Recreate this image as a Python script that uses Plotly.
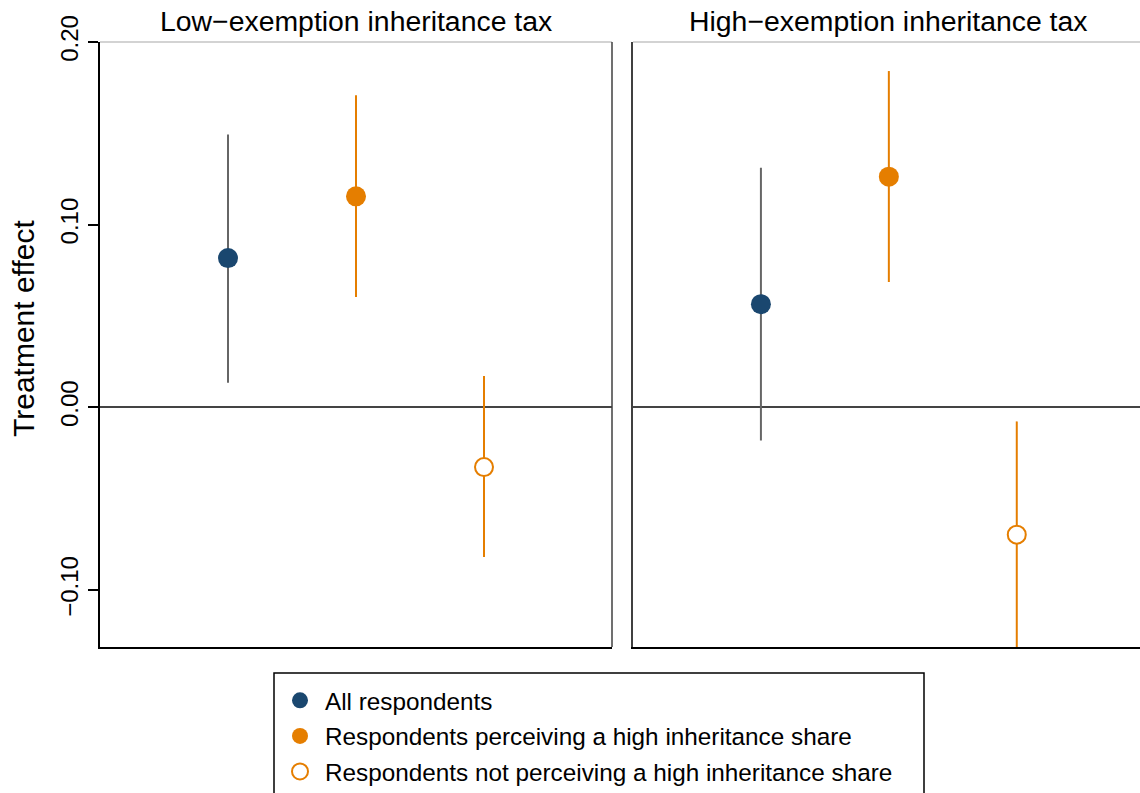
import plotly.graph_objects as go

# Treatment effects with 95% confidence intervals, by tax framing
panels = ["Low\u2212exemption inheritance tax", "High\u2212exemption inheritance tax"]
series = [
    "All respondents",
    "Respondents perceiving a high inheritance share",
    "Respondents not perceiving a high inheritance share",
]
positions = [1, 2, 3]

# estimates per series: [low-exemption, high-exemption]
est_all = [0.0817, 0.0565]
lo_all = [0.0135, -0.0181]
hi_all = [0.1494, 0.1312]

est_high = [0.1155, 0.1263]
lo_high = [0.0604, 0.0686]
hi_high = [0.1708, 0.1841]

est_not = [-0.0327, -0.0697]
lo_not = [-0.0819, -0.1320]
hi_not = [0.0171, -0.0077]

y_ticks = [-0.10, 0.00, 0.10, 0.20]
y_tick_text = ["\u22120.10", "0.00", "0.10", "0.20"]

NAVY = "#1a476f"
ORANGE = "#e57e00"
BAR_GRAY = "#666666"
FONT = "Liberation Sans, Arial, Helvetica, sans-serif"

W, H = 1140, 793
M_L, M_R, M_T, M_B = 100, 0, 42, 146
PLOT_W = W - M_L - M_R
PLOT_H = H - M_T - M_B


def px_x(p):
    return (p - M_L) / PLOT_W


def px_y(p):
    return (H - M_B - p) / PLOT_H


styles = [
    dict(est=est_all, lo=lo_all, hi=hi_all, fill=NAVY, edge=NAVY, lw=0, bar=BAR_GRAY, size=20),
    dict(est=est_high, lo=lo_high, hi=hi_high, fill=ORANGE, edge=ORANGE, lw=0, bar=ORANGE, size=20),
    dict(est=est_not, lo=lo_not, hi=hi_not, fill="white", edge=ORANGE, lw=2, bar=ORANGE, size=18),
]

fig = go.Figure()
for p in range(2):
    xa = "x" if p == 0 else "x2"
    ya = "y" if p == 0 else "y2"
    for k, (name, st) in enumerate(zip(series, styles)):
        e = st["est"][p]
        fig.add_trace(go.Scatter(
            x=[positions[k]], y=[e],
            xaxis=xa, yaxis=ya,
            mode="markers",
            name=name,
            legendgroup=name,
            showlegend=(p == 0),
            marker=dict(size=st["size"], color=st["fill"],
                        line=dict(color=st["edge"], width=st["lw"])),
            error_y=dict(type="data", symmetric=False,
                         array=[st["hi"][p] - e],
                         arrayminus=[e - st["lo"][p]],
                         color=st["bar"], thickness=2, width=0),
            hoverinfo="skip",
        ))

left_dom = [0, 512 / PLOT_W]
right_dom = [533 / PLOT_W, 1]
right_max = (W - 632.7) / 128

axis_common = dict(showgrid=False, zeroline=False, showticklabels=False, ticks="")
fig.update_layout(
    width=W, height=H,
    margin=dict(l=M_L, r=M_R, t=M_T, b=M_B, autoexpand=False),
    paper_bgcolor="white", plot_bgcolor="white",
    font=dict(family=FONT, color="black"),
    xaxis=dict(domain=left_dom, range=[0, 4], showline=True, linecolor="black",
               linewidth=2, **axis_common),
    xaxis2=dict(domain=right_dom, range=[0, right_max], showline=True,
                linecolor="black", linewidth=2, anchor="y2", **axis_common),
    yaxis=dict(range=[-0.1312, 0.2], tickvals=y_ticks, ticktext=y_tick_text,
               tickangle=-90, ticks="outside", ticklen=10, tickwidth=1.5,
               tickcolor="black", tickfont=dict(size=24, family=FONT),
               showline=True, linecolor="black", linewidth=2,
               showgrid=False, zeroline=True, zerolinecolor="#444444",
               zerolinewidth=2),
    yaxis2=dict(range=[-0.1312, 0.2], anchor="x2", showline=True,
                linecolor="#404040", linewidth=1.5, showgrid=False,
                showticklabels=False, ticks="", zeroline=True,
                zerolinecolor="#444444", zerolinewidth=2),
    legend=dict(x=px_x(275), y=px_y(678), xanchor="left", yanchor="top",
                bgcolor="rgba(0,0,0,0)", borderwidth=0,
                font=dict(size=24.3, family=FONT, color="black"),
                traceorder="grouped", tracegroupgap=1,
                itemwidth=40, itemsizing="trace"),
    showlegend=True,
)

# legend frame (runs off the bottom edge of the page)
fig.add_shape(type="rect", xref="paper", yref="paper",
              x0=px_x(274), x1=px_x(924), y0=px_y(800), y1=px_y(673),
              line=dict(color="black", width=1.5), fillcolor="rgba(0,0,0,0)",
              layer="below")

# panel frames: light top edge, dark right edge of the left panel
fig.add_shape(type="line", xref="x domain", yref="y domain", x0=0, x1=1, y0=1, y1=1,
              line=dict(color="#c4c4c4", width=1.5))
fig.add_shape(type="line", xref="x2 domain", yref="y2 domain", x0=0, x1=1, y0=1, y1=1,
              line=dict(color="#c4c4c4", width=1.5))
fig.add_shape(type="line", xref="x domain", yref="y domain", x0=1, x1=1, y0=0, y1=1,
              line=dict(color="#404040", width=1.5))

# panel titles centred over each panel
for xa, title in zip(["x", "x2"], panels):
    fig.add_annotation(text=title, xref=xa, yref="paper", x=2, y=px_y(21),
                       xanchor="center", yanchor="middle", showarrow=False,
                       font=dict(size=28.4, family=FONT, color="black"))

fig.add_annotation(text="Treatment effect", xref="paper", yref="paper",
                   x=px_x(23), y=px_y(329), xanchor="center", yanchor="middle",
                   textangle=-90, showarrow=False,
                   font=dict(size=30, family=FONT, color="black"))

fig.write_html("out.html")
